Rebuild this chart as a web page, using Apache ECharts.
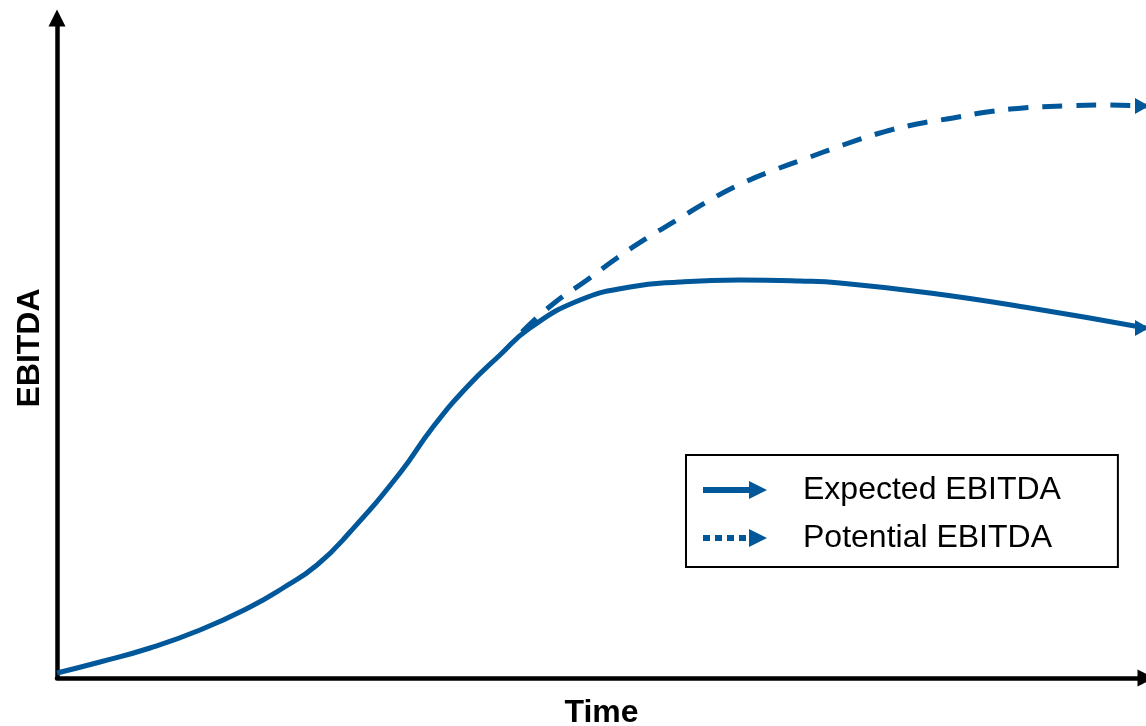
<!DOCTYPE html>
<html>
<head>
<meta charset="utf-8">
<script src="https://cdn.jsdelivr.net/npm/echarts@6/dist/echarts.min.js"></script>
<style>
html,body{margin:0;padding:0;background:#fff;}
#chart{width:1146px;height:726px;}
</style>
</head>
<body>
<div id="chart"></div>
<script>
// Time (x) and EBITDA (y) in arbitrary units
var expectedX = [0, 43, 93, 143, 193, 226, 260, 293, 343, 376, 410, 443, 473, 523, 573, 623, 683, 743, 783, 873, 973, 1089];
var expectedY = [5, 16, 30, 48, 71, 90, 113, 146, 205, 251, 291, 323, 350, 378, 391, 396, 398, 397, 395, 385, 370, 350];
var potentialX = [465, 496, 530, 560, 590, 620, 653, 686, 720, 753, 786, 823, 860, 896, 930, 966, 1006, 1040, 1089];
var potentialY = [346, 374, 398, 420, 440, 458, 478, 495, 509, 521, 533, 545, 554, 560, 566, 570, 572, 573, 572];
var seriesNames = ['Expected EBITDA', 'Potential EBITDA'];
var axisNames = ['Time', 'EBITDA'];
var xMax = 1089, yMax = 660;

var blue = '#00589B';
function pairs(xs, ys) { return xs.map(function (x, i) { return [x, ys[i]]; }); }
var expData = pairs(expectedX, expectedY);
var potData = pairs(potentialX, potentialY);

var solidIcon = 'path://M0,6 L46,6 L46,12 L0,12 Z M46,0 L64,9 L46,18 Z';
var dotIcon = 'path://M0,6 L7,6 L7,12 L0,12 Z M12,6 L19,6 L19,12 L12,12 Z M24,6 L31,6 L31,12 L24,12 Z M36,6 L43,6 L43,12 L36,12 Z M46,0 L64,9 L46,18 Z';

var chart = echarts.init(document.getElementById('chart'), null, {renderer: 'canvas'});
chart.setOption({
  animation: false,
  backgroundColor: '#fff',
  grid: {left: 57, right: 0, top: 18, bottom: 48, containLabel: false, outerBoundsMode: 'none'},
  xAxis: {
    type: 'value', min: 0, max: xMax,
    name: axisNames[0], nameLocation: 'middle', nameGap: 19,
    nameTextStyle: {fontFamily: 'Liberation Sans', fontSize: 32, fontWeight: 'bold', color: '#000'},
    axisLine: {show: true, symbol: ['none', 'triangle'], symbolSize: [17, 17], lineStyle: {color: '#000', width: 4.5}},
    axisTick: {show: false}, axisLabel: {show: false}, splitLine: {show: false}
  },
  yAxis: {
    type: 'value', min: 0, max: yMax,
    name: axisNames[1], nameLocation: 'middle', nameGap: 11,
    nameTextStyle: {fontFamily: 'Liberation Sans', fontSize: 32, fontWeight: 'bold', color: '#000'},
    axisLine: {show: true, symbol: ['none', 'triangle'], symbolSize: [17, 17], lineStyle: {color: '#000', width: 4.5}},
    axisTick: {show: false}, axisLabel: {show: false}, splitLine: {show: false}
  },
  legend: {
    orient: 'vertical',
    left: 686, top: 455,
    padding: [19, 57, 13, 17],
    itemGap: 16,
    itemWidth: 64, itemHeight: 18,
    borderColor: '#000', borderWidth: 2, borderRadius: 0,
    backgroundColor: '#fff',
    selectedMode: false,
    textStyle: {fontFamily: 'Liberation Sans', fontSize: 32, color: '#000', padding: [0, 0, 0, 31]},
    data: [
      {name: seriesNames[0], icon: solidIcon, itemStyle: {color: blue}},
      {name: seriesNames[1], icon: dotIcon, itemStyle: {color: blue}}
    ]
  },
  series: [
    {
      name: seriesNames[0], type: 'line', data: expData, smooth: 0.5,
      showSymbol: false, symbol: 'none', clip: false,
      lineStyle: {color: blue, width: 5}, itemStyle: {color: blue}, z: 3
    },
    {
      name: seriesNames[1], type: 'line', data: potData, smooth: 0.5,
      showSymbol: false, symbol: 'none', clip: false,
      lineStyle: {color: blue, width: 5, type: [20, 14]}, itemStyle: {color: blue}, z: 3
    },
    {
      name: 'arrows', type: 'scatter', silent: true, clip: false,
      data: [expData[expData.length - 1], potData[potData.length - 1]],
      symbol: 'triangle', symbolSize: [16, 14], symbolRotate: -90, symbolOffset: [-4, 0],
      itemStyle: {color: blue, opacity: 1}, z: 4
    }
  ]
});
</script>
</body>
</html>
